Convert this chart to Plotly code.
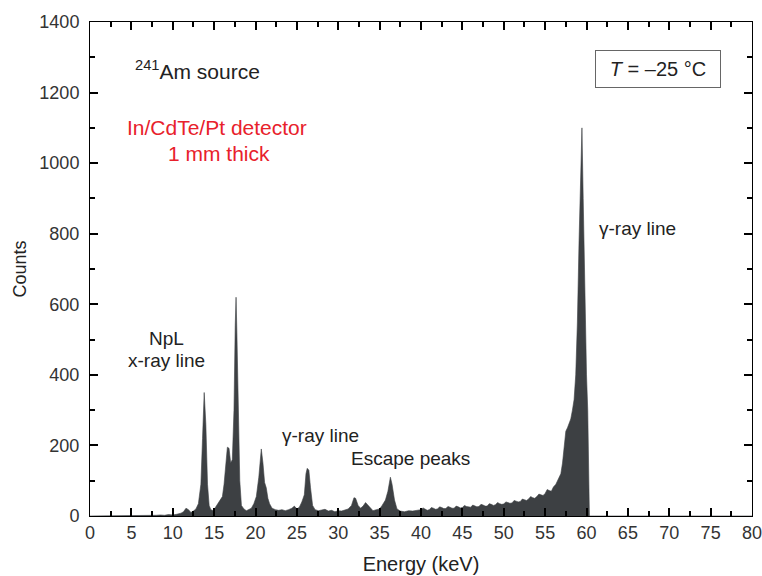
import plotly.graph_objects as go

energy_kev = [0, 1, 2, 3, 4, 5, 6, 7, 8, 8.5, 9, 9.5, 10, 10.5, 11, 11.3, 11.6, 11.9, 12.2, 12.5,
              12.8, 13.1, 13.4, 13.6, 13.8, 14.0, 14.2, 14.4, 14.6, 14.9, 15.2, 15.5, 15.8, 16.0,
              16.2, 16.4, 16.6, 16.8, 17.0, 17.2, 17.4, 17.55, 17.65, 17.75, 17.9, 18.1, 18.3,
              18.6, 18.9, 19.2, 19.5, 19.8, 20.1, 20.4, 20.7, 20.9, 21.1, 21.3, 21.5, 21.7, 22.0,
              22.4, 22.8, 23.2, 23.6, 24.0, 24.4, 24.7, 25.0, 25.3, 25.6, 25.9, 26.1, 26.25, 26.45,
              26.65, 26.9, 27.2, 27.6, 28.0, 28.4, 28.8, 29.2, 29.6, 30.0, 30.4, 30.8, 31.2, 31.6,
              31.9, 32.1, 32.4, 32.7, 33.0, 33.3, 33.6, 33.9, 34.2, 34.6, 35.0, 35.3, 35.7, 36.0,
              36.3, 36.5, 36.8, 37.1, 37.5, 38.0, 38.5, 39.0, 39.5, 40.0, 40.25, 40.5, 40.75, 41.0,
              41.25, 41.5, 41.75, 42.0, 42.25, 42.5, 42.75, 43.0, 43.25, 43.5, 43.75, 44.0, 44.25,
              44.5, 44.75, 45.0, 45.25, 45.5, 45.75, 46.0, 46.25, 46.5, 46.75, 47.0, 47.25, 47.5,
              47.75, 48.0, 48.25, 48.5, 48.75, 49.0, 49.25, 49.5, 49.75, 50.0, 50.25, 50.5, 50.75,
              51.0, 51.25, 51.5, 51.75, 52.0, 52.25, 52.5, 52.75, 53.0, 53.25, 53.5, 53.75, 54.0,
              54.25, 54.5, 54.75, 55.0, 55.25, 55.5, 55.75, 56.0, 56.3, 56.6, 56.9, 57.1, 57.3,
              57.5, 57.7, 57.9, 58.1, 58.3, 58.5, 58.7, 58.9, 59.1, 59.3, 59.45, 59.6, 59.8, 60.0,
              60.15, 60.25, 60.35, 61, 65, 70, 75, 80]

counts = [0, 0, 0, 0, 0, 0, 1, 1, 2, 3, 2, 4, 3, 5, 8, 12, 22, 18, 10, 14,
          20, 35, 90, 220, 350, 260, 90, 30, 18, 15, 25, 35, 45, 55,
          90, 150, 195, 192, 150, 160, 300, 540, 620, 520, 300, 100, 30,
          20, 15, 18, 22, 35, 55, 110, 190, 150, 95, 80, 50, 35, 22,
          18, 16, 18, 15, 18, 22, 28, 20, 25, 40, 60, 120, 135, 130,
          80, 30, 18, 15, 17, 19, 14, 16, 12, 15, 14, 18, 20, 30,
          52, 50, 30, 22, 28, 38, 30, 20, 15, 18, 20, 30, 45, 70,
          110, 90, 45, 20, 14, 12, 15, 14, 17, 18, 23, 20, 16, 18,
          24, 22, 19, 20, 26, 24, 21, 21, 27, 25, 22, 22, 28,
          26, 23, 24, 30, 27, 25, 25, 31, 29, 26, 27, 33, 31,
          28, 28, 35, 33, 30, 32, 38, 35, 33, 34, 40, 38, 36,
          37, 44, 42, 40, 41, 48, 46, 44, 48, 55, 52, 50, 55,
          62, 60, 58, 64, 75, 72, 70, 82, 90, 105, 120, 150, 200,
          240, 250, 260, 275, 300, 330, 400, 550, 780, 1000, 1100, 900, 620, 400,
          300, 150, 0, 0, 0, 0, 0, 0]

x_ticks = [0, 5, 10, 15, 20, 25, 30, 35, 40, 45, 50, 55, 60, 65, 70, 75, 80]
y_ticks = [0, 200, 400, 600, 800, 1000, 1200, 1400]

TXT = "Liberation Sans, Arial, sans-serif"
fill_col = "#3d4043"
text_col = "#222"

fig = go.Figure()
fig.add_trace(go.Scatter(x=energy_kev, y=counts, mode="lines", fill="tozeroy",
                         line=dict(color=fill_col, width=0.6), fillcolor=fill_col,
                         showlegend=False, hoverinfo="skip"))

axis_common = dict(showline=True, linecolor="black", linewidth=1, mirror="ticks",
                   ticks="inside", ticklen=8, tickcolor="black", tickwidth=1.5,
                   showgrid=False, zeroline=False, ticklabeloverflow="allow",
                   automargin=False,
                   tickfont=dict(family=TXT, size=18, color="#333"))

fig.update_xaxes(range=[0, 80], tickvals=x_ticks, ticktext=[str(v) for v in x_ticks],
                 minor=dict(dtick=2.5, tick0=0, ticks="inside", ticklen=5, tickcolor="black"),
                 title=dict(text="Energy (keV)", font=dict(family=TXT, size=20, color=text_col), standoff=15),
                 **axis_common)
fig.update_yaxes(range=[0, 1400], tickvals=y_ticks, ticktext=[str(v) for v in y_ticks],
                 minor=dict(dtick=100, tick0=0, ticks="inside", ticklen=5, tickcolor="black"),
                 ticklabelstandoff=6,
                 title=dict(text="Counts", font=dict(family=TXT, size=18, color=text_col), standoff=8),
                 **axis_common)

big_font = dict(family=TXT, size=21, color=text_col)
red_font = dict(family=TXT, size=21, color="#e8212b")
lab_font = dict(family=TXT, size=19, color=text_col)
annotations = [
    dict(x=13.0, y=1264, text="<sup>241</sup>Am source", font=big_font),
    dict(x=15.35, y=1100, text="In/CdTe/Pt detector", font=red_font),
    dict(x=15.6, y=1026, text="1 mm thick", font=red_font),
    dict(x=9.2, y=504, text="NpL", font=lab_font),
    dict(x=9.2, y=442, text="x-ray line", font=lab_font),
    dict(x=27.8, y=227, text="γ-ray line", font=lab_font),
    dict(x=38.7, y=164, text="Escape peaks", font=lab_font),
    dict(x=66.2, y=816, text="γ-ray line", font=lab_font),
    dict(x=68.7, y=1268, text="<i>T</i> = –25 °C", font=dict(family=TXT, size=20, color=text_col),
         bordercolor="#666", borderwidth=1, borderpad=4, width=116, height=28),
]
for a in annotations:
    a.update(xref="x", yref="y", showarrow=False)
fig.update_layout(annotations=annotations)

fig.update_layout(width=762, height=576, margin=dict(l=90, r=10, t=22, b=60, autoexpand=False),
                  paper_bgcolor="white", plot_bgcolor="white")

fig.write_html("out.html")
